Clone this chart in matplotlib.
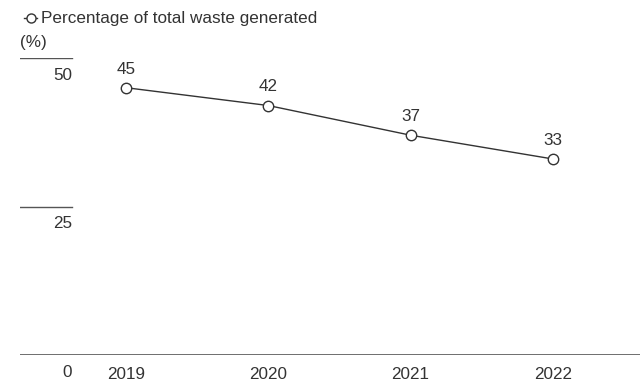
import matplotlib.pyplot as plt
from matplotlib.lines import Line2D

years = ["2019", "2020", "2021", "2022"]
share = [45, 42, 37, 33]
y_ticks = [0, 25, 50]
legend_label = "Percentage of total waste generated"
unit_label = "(%)"

plt.rcParams['font.family'] = ['Liberation Sans', 'DejaVu Sans']
text_c = "#333333"
line_c = "#333333"
fs = 12.3

fig = plt.figure(figsize=(6.4, 3.81), dpi=100)
ax = fig.add_axes([20 / 640, 26 / 381, 620 / 640, 297 / 381])

x = list(range(len(years)))
ax.plot(x, share, color=line_c, lw=1, marker="o", ms=7.5,
        mfc="white", mec=line_c, mew=1, zorder=3, clip_on=False)
for xi, v in zip(x, share):
    ax.annotate(str(v), (xi, v), xytext=(0, 8), textcoords="offset points",
                ha="center", va="bottom", fontsize=fs, color=text_c)

ax.set_xlim(-0.745, 3.612)
ax.set_ylim(0, 50)

# short guide lines above the y labels, full baseline at zero
for t in y_ticks:
    if t == 0:
        ax.axhline(0, color="#555555", lw=1.2)
    else:
        ax.axhline(t, xmin=0, xmax=52 / 620, color="#555555", lw=1)
    ax.annotate(str(t), (0, t), xycoords=("axes fraction", "data"),
                xytext=(52 * 0.72, -7), textcoords="offset points",
                ha="right", va="top", fontsize=fs, color=text_c)

for xi, yr in zip(x, years):
    ax.annotate(yr, (xi, 0), xytext=(0, -8.5), textcoords="offset points",
                ha="center", va="top", fontsize=fs, color=text_c)

ax.axis("off")

# legend and unit label
ly = 1 - 18 / 381
fig.lines.append(Line2D([24 / 640, 37 / 640], [ly, ly],
                        transform=fig.transFigure, color=line_c, lw=1))
fig.lines.append(Line2D([30.5 / 640], [ly], transform=fig.transFigure,
                        marker="o", ms=6.5, mfc="white", mec=line_c, mew=1))
fig.text(41 / 640, ly, legend_label, ha="left", va="center",
         fontsize=fs, color=text_c)
fig.text(20 / 640, 1 - 42 / 381, unit_label, ha="left", va="center",
         fontsize=fs, color=text_c)

fig.savefig("out.png", dpi=100)
